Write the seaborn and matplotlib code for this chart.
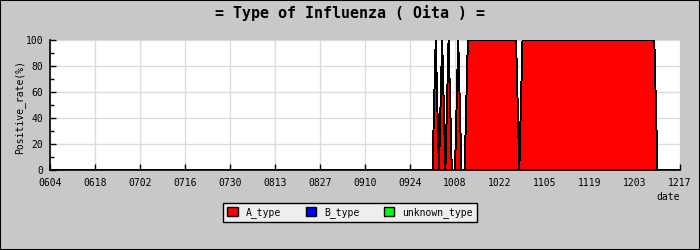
import matplotlib
matplotlib.use("Agg")
import matplotlib.pyplot as plt
import matplotlib.dates as mdates
from matplotlib.patches import Patch, Rectangle
from matplotlib.ticker import MultipleLocator
import numpy as np
import pandas as pd
import seaborn as sns

# ---- data (reported points; straight lines between them) ----
dates = ["0604", "1001", "1002", "1003", "1004", "1005", "1006", "1007",
         "1008", "1009", "1010", "1011", "1012", "1027", "1028", "1029",
         "1209", "1210", "1217"]
a_type = [0, 0, 100, 0, 100, 0, 100, 0, 0, 100, 0, 0, 100, 100, 0, 100,
          100, 0, 0]
b_type = [0] * len(dates)
unknown_type = [0] * len(dates)

series_names = ["A_type", "B_type", "unknown_type"]
series_colors = ["#ff0000", "#0000ff", "#00ff00"]
tick_labels = ["0604", "0618", "0702", "0716", "0730", "0813", "0827", "0910",
               "0924", "1008", "1022", "1105", "1119", "1203", "1217"]
title = "= Type of Influenza ( Oita ) ="
ylabel = "Positive_rate(%)"
xlabel = "date"

YEAR = "2024"
df = pd.DataFrame({
    "date": pd.to_datetime([YEAR + d for d in dates], format="%Y%m%d"),
    "A_type": a_type, "B_type": b_type, "unknown_type": unknown_type,
})
ticks = pd.to_datetime([YEAR + t for t in tick_labels], format="%Y%m%d")

sns.set_theme(style="whitegrid")
mono = "DejaVu Sans Mono"
plt.rcParams["font.family"] = [mono]
plt.rcParams["text.color"] = "black"

fig = plt.figure(figsize=(7, 2.5), dpi=100)
fig.patch.set_facecolor("#c8c8c8")
fig.patches.append(Rectangle((0, 0), 1, 1, transform=fig.transFigure,
                             fill=False, edgecolor="black", linewidth=1.5))
ax = fig.add_axes([50 / 700, 80 / 250, 630 / 700, 129.5 / 250])
ax.set_facecolor("white")

polys = ax.stackplot(df["date"], df["A_type"], df["B_type"],
                     df["unknown_type"], colors=series_colors, linewidth=0)
for p in polys:
    p.set_antialiased(False)
cum = df[series_names].cumsum(axis=1)
for name in series_names:
    sns.lineplot(x=df["date"], y=cum[name], ax=ax, color="black",
                 linewidth=0.7, legend=False, antialiased=False)

ax.set_xlim(ticks[0], ticks[-1])
ax.set_ylim(0, 100)
ax.set_xticks(ticks)
ax.xaxis.set_major_formatter(mdates.DateFormatter("%m%d"))
ax.yaxis.set_major_locator(MultipleLocator(20))
ax.yaxis.set_minor_locator(MultipleLocator(10))

ax.grid(True, which="major", color="#dcdcdc", linewidth=1)
ax.grid(False, which="minor")
ax.set_axisbelow(True)
for side in ["top", "right"]:
    ax.spines[side].set_visible(False)
for side in ["left", "bottom"]:
    ax.spines[side].set_visible(True)
    ax.spines[side].set_color("black")
    ax.spines[side].set_linewidth(1.2)

ax.tick_params(axis="x", which="major", direction="in", length=4, width=1,
               color="black", pad=6, labelsize=7, labelcolor="black",
               bottom=True)
ax.tick_params(axis="y", which="major", direction="in", length=4, width=1,
               color="black", pad=5, labelsize=7, labelcolor="black",
               left=True)
ax.tick_params(axis="y", which="minor", direction="in", length=3, width=1,
               color="black", left=True)

ax.set_xlabel("")
ax.set_ylabel("")
fig.text(20 / 700, 1 - 107 / 250, ylabel, rotation=90, ha="center",
         va="center", fontsize=7, family=mono, color="black")
fig.text(668 / 700, 1 - 197 / 250, xlabel, ha="center", va="center",
         fontsize=7, family=mono, color="black")
fig.text(0.5, 1 - 13 / 250, title, ha="center", va="center",
         fontsize=10.8, family=mono, weight="bold", color="black")

handles = [Patch(facecolor=c, edgecolor="black", linewidth=1, label=n)
           for n, c in zip(series_names, series_colors)]
leg = fig.legend(handles=handles, loc="center",
                 bbox_to_anchor=(350 / 700, 1 - 212.5 / 250), ncol=3,
                 frameon=True, fancybox=False, facecolor="#eeeeee",
                 edgecolor="black", framealpha=1, fontsize=7,
                 handlelength=1.1, handleheight=1.1, handletextpad=0.8,
                 columnspacing=2.5, borderpad=0.45)
leg.get_frame().set_linewidth(1)
for t in leg.get_texts():
    t.set_family(mono)
    t.set_color("black")

fig.savefig("out.png", dpi=100, facecolor=fig.get_facecolor())
